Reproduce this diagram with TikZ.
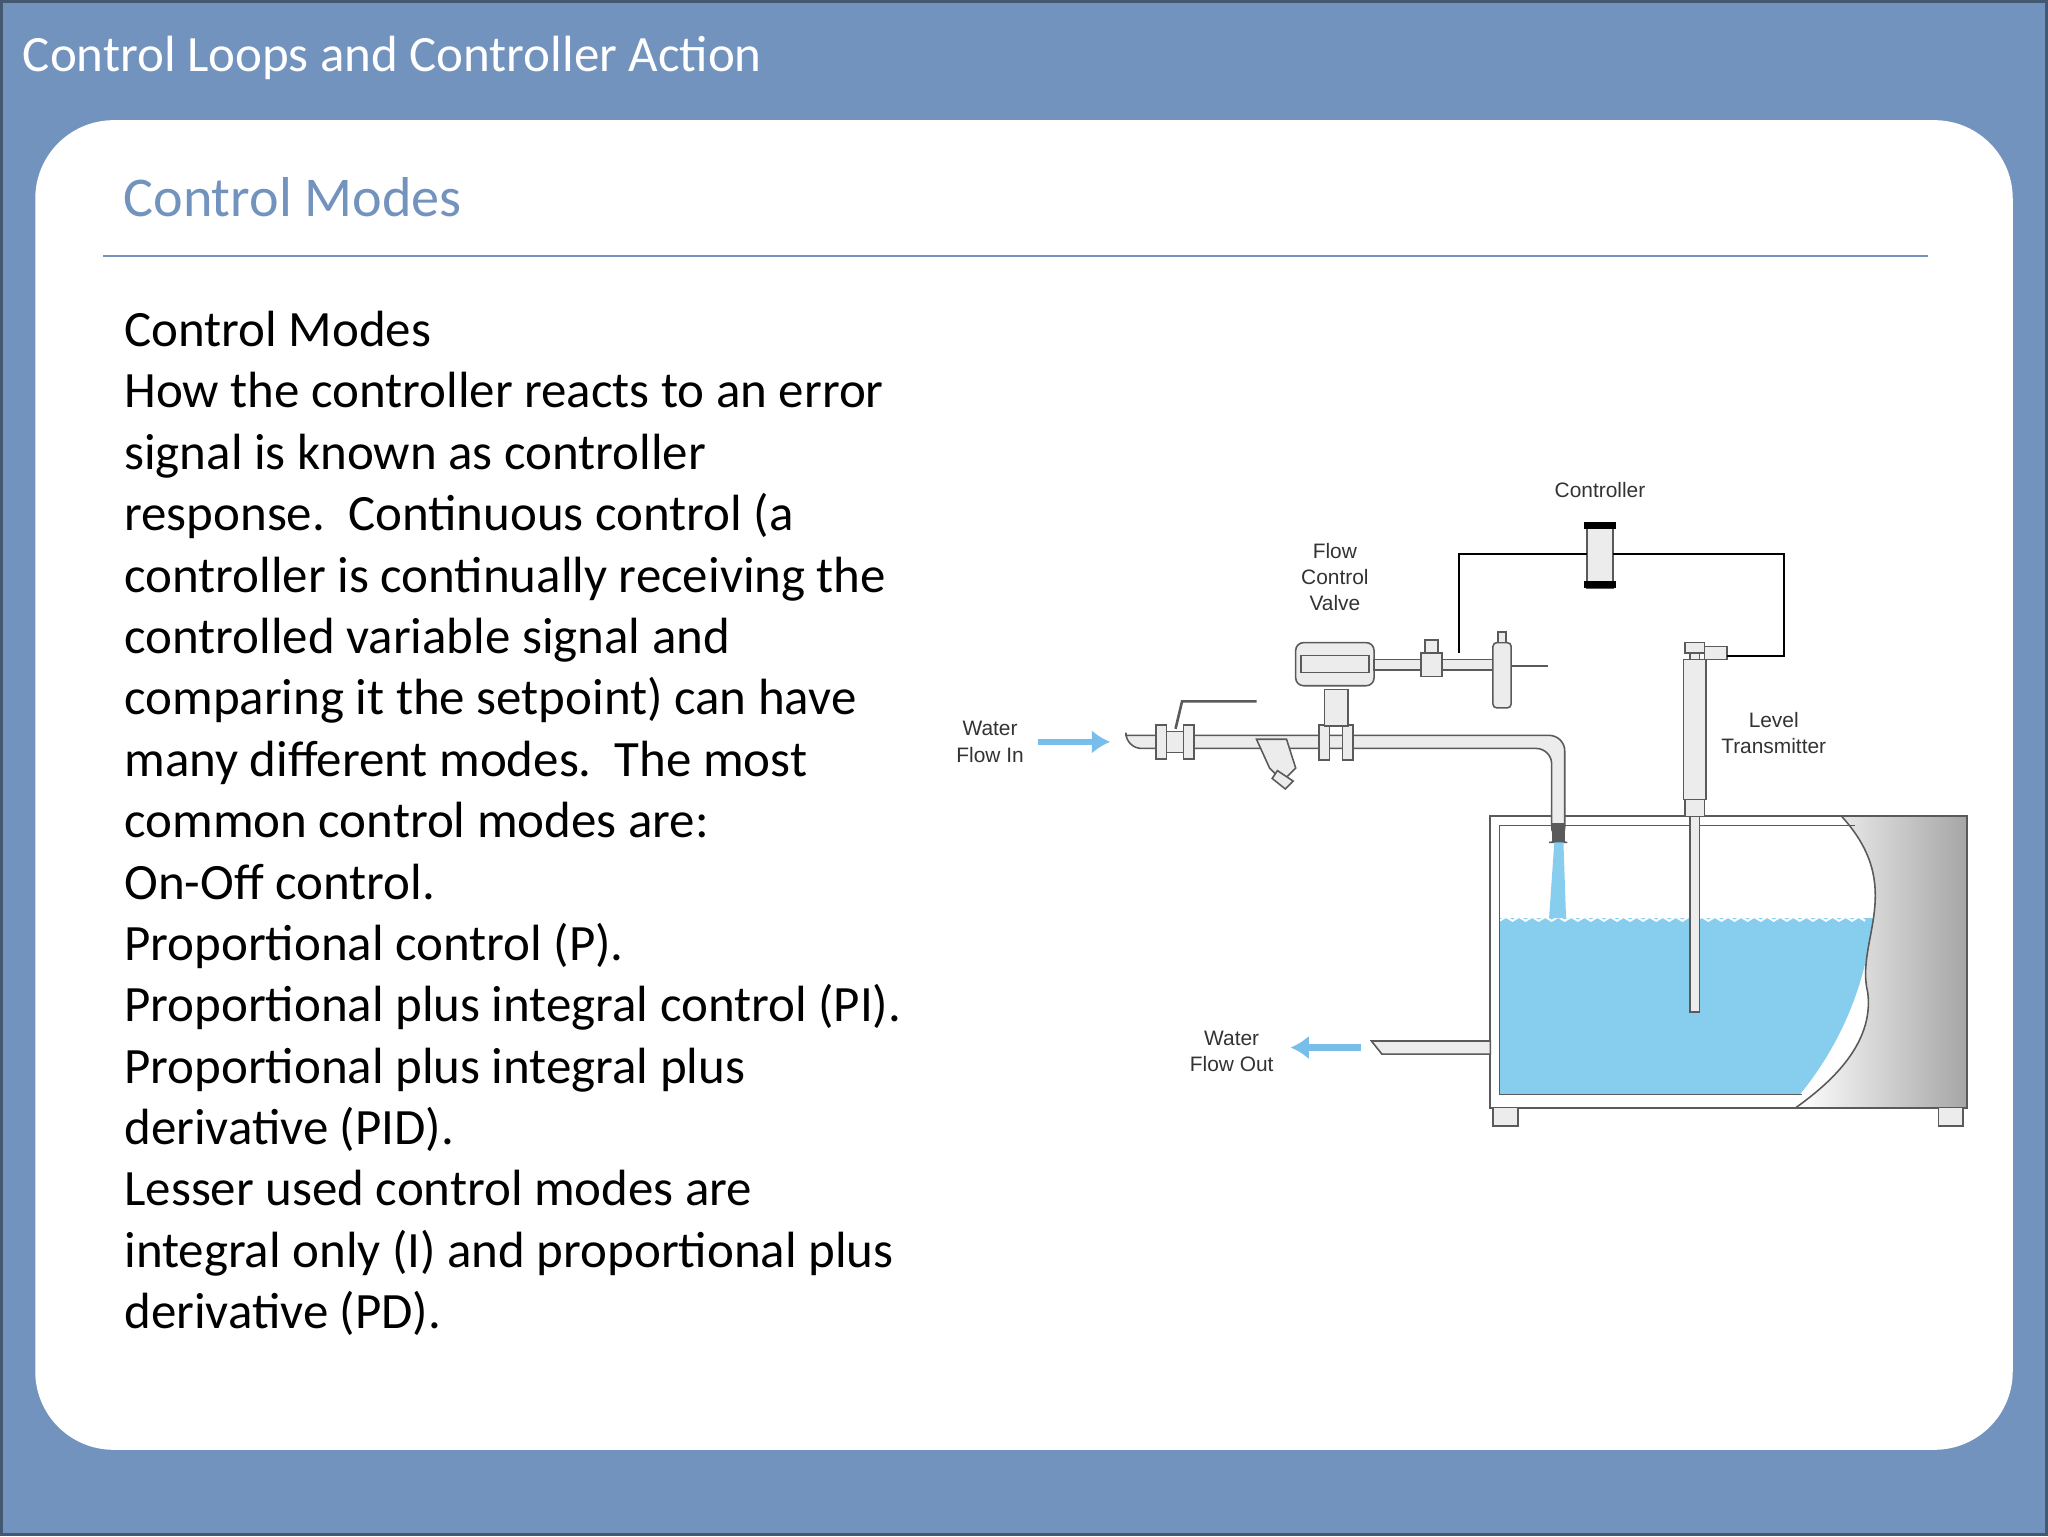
\documentclass[tikz,border=0pt]{standalone}
\usepackage{fontspec}
\usetikzlibrary{arrows.meta}
\setmainfont{Carlito}
\newfontfamily\lab{Liberation Sans}
\begin{document}
\definecolor{bgb}{RGB}{115,147,191}
\definecolor{wat}{RGB}{135,206,238}
\definecolor{arr}{RGB}{120,190,235}
\definecolor{pipe}{RGB}{90,90,90}
\begin{tikzpicture}[x=1pt,y=-1pt,
  lbl/.style={font=\lab\fontsize{16}{20}\selectfont,align=center,text=black!80},
  pp/.style={draw=pipe,line width=1.2pt,fill=gray!15},
  sig/.style={draw=black,line width=1.6pt},
  warr/.style={draw=arr,line width=5pt,-{Latex[length=14pt,width=18pt]}}]
\useasboundingbox (0,0) rectangle (1568,1176);
\fill[bgb] (0,0) rectangle (1568,1176);
\draw[bgb!60!black,line width=2pt] (1,1) rectangle (1567,1175);
\node[anchor=west,text=white,font=\fontsize{39}{44}\selectfont] (title) at (14,44) {Control Loops and Controller Action};
\fill[white,rounded corners=60pt] (27,92) rectangle (1541,1110);
\node[anchor=west,text=bgb,font=\fontsize{43}{50}\selectfont] (head) at (91,151) {Control Modes};
\draw[bgb,line width=1.2pt] (79,196) -- (1476,196);
\node[anchor=north west,align=left,font=\fontsize{39}{47}\selectfont,inner sep=0pt] (body) at (95,238) {Control Modes\\
How the controller reacts to an error\\
signal is known as controller\\
response.\ \ Continuous control (a\\
controller is continually receiving the\\
controlled variable signal and\\
comparing it the setpoint) can have\\
many different modes.\ \ The most\\
common control modes are:\\
On-Off control.\\
Proportional control (P).\\
Proportional plus integral control (PI).\\
Proportional plus integral plus\\
derivative (PID).\\
Lesser used control modes are\\
integral only (I) and proportional plus\\
derivative (PD).};
% tank
\fill[wat] (1148,703) -- (1434,703) .. controls (1428,760) and (1405,805) .. (1378,838) -- (1148,838) -- cycle;
\draw[white,line width=1.5pt] (1148,705) \foreach \i in {0,...,27} {-- ++(5,-3) -- ++(5,3)};
\shade[left color=white,right color=gray!70] (1410,625) .. controls (1460,680) and (1420,720) .. (1430,760) .. controls (1435,800) and (1400,830) .. (1375,848) -- (1506,848) -- (1506,625) -- cycle;
\draw[pipe,line width=1.2pt] (1410,625) .. controls (1460,680) and (1420,720) .. (1430,760) .. controls (1435,800) and (1400,830) .. (1375,848);
\draw[pipe,line width=1.5pt] (1141,625) rectangle (1506,848);
\draw[pipe,line width=1pt] (1148,632) -- (1420,632);
\draw[pipe,line width=1pt] (1148,632) -- (1148,838) -- (1380,838);
\draw[pp] (1143,848) rectangle (1162,862);
\draw[pp] (1484,848) rectangle (1503,862);
% inlet pipe
\draw[pp,rounded corners=12pt] (862,563) -- (1198,563) -- (1198,645) -- (1188,645) -- (1188,573) -- (862,573) [sharp corners] -- cycle;
\fill[wat] (1190,645) -- (1197,645) -- (1199,703) -- (1186,703) -- cycle;
\fill[pipe] (1188,630) rectangle (1198,645);
% ball valve
\draw[pp] (885,555) rectangle (893,581);
\draw[pp] (893,560) rectangle (910,576);
\draw[pp] (906,555) rectangle (914,581);
\draw[pipe,line width=2pt] (900,558) -- (905,537) -- (962,537);
% strainer
\draw[pp] (962,566) -- (985,566) -- (992,588) -- (982,598) -- (972,588) -- cycle;
\draw[pp] (978,590) -- (990,598) -- (984,604) -- (974,596) -- cycle;
% flow valve
\draw[pp] (1010,555) rectangle (1018,582);
\draw[pp] (1028,555) rectangle (1036,582);
\draw[pp] (1014,528) rectangle (1032,556);
\draw[pp,rounded corners=6pt] (992,492) rectangle (1052,525);
\draw[pp] (996,502) rectangle (1048,515);
\draw[pp] (1052,505) -- (1145,505) -- (1145,513) -- (1052,513) -- cycle;
\draw[pp] (1088,500) rectangle (1104,518);
\draw[pp] (1091,490) rectangle (1101,500);
\draw[pp,rounded corners=3pt] (1143,492) rectangle (1157,542);
\draw[pp] (1147,484) rectangle (1153,492);
\draw[pipe,line width=1.5pt] (1157,510) -- (1185,510);
% level transmitter
\draw[pp] (1294,500) rectangle (1301,775);
\draw[pp] (1289,505) rectangle (1306,612);
\draw[pp] (1290,492) rectangle (1305,500);
\draw[pp] (1305,495) rectangle (1322,505);
\draw[pp] (1290,612) rectangle (1305,625);
% controller
\draw[pp] (1215,400) rectangle (1235,450);
\fill[black] (1213,400) rectangle (1237,405);
\fill[black] (1213,445) rectangle (1237,450);
\coordinate (cL) at (1215,424);
\coordinate (cR) at (1235,424);
\draw[sig] (cL) -- (1117,424) -- (1117,500);
\draw[sig] (cR) -- (1366,424) -- (1366,502) -- (1322,502);
% outlet
\draw[pp] (1050,797) -- (1141,797) -- (1141,807) -- (1058,807) -- cycle;
% arrows
\coordinate (ai1) at (795,568); \coordinate (ai2) at (850,568);
\draw[warr] (ai1) -- (ai2);
\coordinate (ao1) at (1042,802); \coordinate (ao2) at (988,802);
\draw[warr] (ao1) -- (ao2);
% labels
\node[lbl] (wi) at (758,568) {Water\\Flow In};
\node[lbl] (fcv) at (1022,442) {Flow\\Control\\Valve};
\node[lbl] (ctl) at (1225,375) {Controller};
\node[lbl] (lt) at (1358,561) {Level\\Transmitter};
\node[lbl] (wo) at (943,805) {Water\\Flow Out};
\end{tikzpicture}
\end{document}
